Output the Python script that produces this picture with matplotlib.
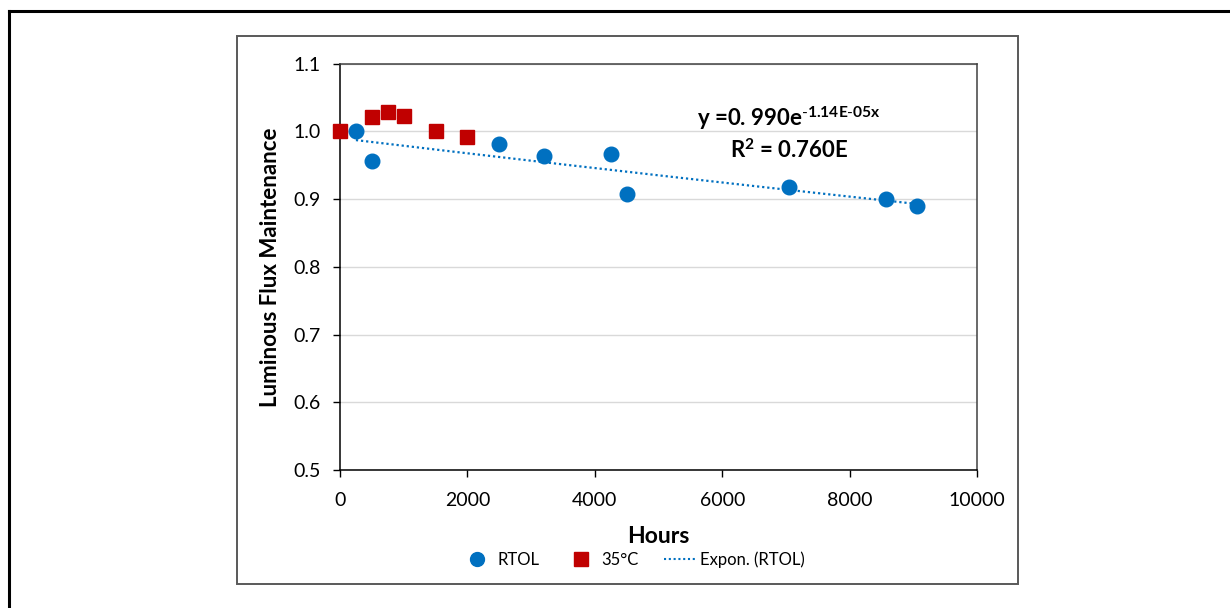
import numpy as np
import matplotlib
matplotlib.use("Agg")
import matplotlib.pyplot as plt
from matplotlib.lines import Line2D
from matplotlib.patches import Rectangle

plt.rcParams['font.family'] = ['Lato', 'DejaVu Sans']
plt.rcParams['mathtext.fontset'] = 'custom'
plt.rcParams['mathtext.rm'] = 'Lato'
plt.rcParams['mathtext.bf'] = 'Lato:bold'
plt.rcParams['mathtext.it'] = 'Lato:italic'

# Room-temperature operating life measurements
rtol_hours = [250, 500, 2500, 3200, 4250, 4500, 7050, 8570, 9060]
rtol_flux = [1.000, 0.957, 0.982, 0.963, 0.966, 0.908, 0.918, 0.900, 0.890]

# 35 °C measurements
t35_hours = [0, 500, 750, 1000, 1500, 2000]
t35_flux = [1.000, 1.021, 1.028, 1.023, 1.000, 0.992]

# Exponential fit of the RTOL series
fit_a = 0.990
fit_b = -1.14e-05
fit_label = r"y =0. 990e$^{\mathbf{\text{-}1.14E\text{-}05x}}$"
r2_label = r"R$^{\mathbf{2}}$ = 0.760E"

x_ticks = [0, 2000, 4000, 6000, 8000, 10000]
y_ticks = [0.5, 0.6, 0.7, 0.8, 0.9, 1.0, 1.1]

blue = "#0070C0"
red = "#C00000"

fig = plt.figure(figsize=(12.30, 6.08), dpi=100)

# outer page frame (top and left edges)
fig.add_artist(Line2D([9/1230, 9/1230], [0, 1 - 11/608], transform=fig.transFigure,
                      color="black", lw=2.2))
fig.add_artist(Line2D([9/1230, 1], [1 - 11/608, 1 - 11/608], transform=fig.transFigure,
                      color="black", lw=2.2))
# chart box
fig.add_artist(Rectangle((237/1230, 1 - 584/608), (1018 - 237)/1230, (584 - 36)/608,
                         transform=fig.transFigure, fill=False, edgecolor="#595959", lw=1.4))

ax = fig.add_axes([340/1230, 1 - 470/608, (977 - 340)/1230, (470 - 63.7)/608])
ax.set_xlim(0, 10000)
ax.set_ylim(0.5, 1.1)
ax.set_xticks(x_ticks)
ax.set_yticks(y_ticks)
ax.set_yticklabels([f"{v:.1f}" for v in y_ticks])
ax.set_xticklabels([str(v) for v in x_ticks])
ax.tick_params(axis="both", direction="out", length=5, width=1, labelsize=14,
               colors="black")
ax.tick_params(axis="x", pad=11)
ax.tick_params(axis="y", pad=9)
ax.grid(axis="y", color="#D9D9D9", lw=1)
ax.set_axisbelow(True)
for s in ax.spines.values():
    s.set_color("#404040")
    s.set_linewidth(1.1)
ax.spines["left"].set_color("black")
ax.spines["bottom"].set_color("black")

xs = np.linspace(min(rtol_hours), max(rtol_hours), 200)
ax.plot(xs, fit_a * np.exp(fit_b * xs), linestyle=(0, (1, 1.3)), color=blue, lw=1.6, zorder=2)
ax.plot(rtol_hours, rtol_flux, "o", color=blue, ms=10.5, mec=blue, zorder=3, clip_on=False)
ax.plot(t35_hours, t35_flux, "s", color=red, ms=10, mec=red, zorder=3, clip_on=False)

ax.text(7050, 1.020, fit_label, ha="center", va="center", fontsize=16, fontweight="bold")
ax.text(7050, 0.973, r2_label, ha="center", va="center", fontsize=16, fontweight="bold")

ax.set_xlabel("Hours", fontsize=16.5, fontweight="bold", labelpad=12)
ax.set_ylabel("Luminous Flux Maintenance", fontsize=16, fontweight="bold", labelpad=9)

handles = [
    Line2D([], [], marker="o", color=blue, ls="none", ms=10),
    Line2D([], [], marker="s", color=red, ls="none", ms=9.5),
    Line2D([], [], color=blue, linestyle=(0, (1, 1.3)), lw=1.5),
]
fig.legend(handles, ["RTOL", "35°C", "Expon. (RTOL)"], loc="center",
           bbox_to_anchor=(633/1230, 1 - 560/608), ncol=3, frameon=False, fontsize=12,
           handlelength=1.9, columnspacing=1.5, handletextpad=0.3)

fig.savefig("out.png", dpi=100)
